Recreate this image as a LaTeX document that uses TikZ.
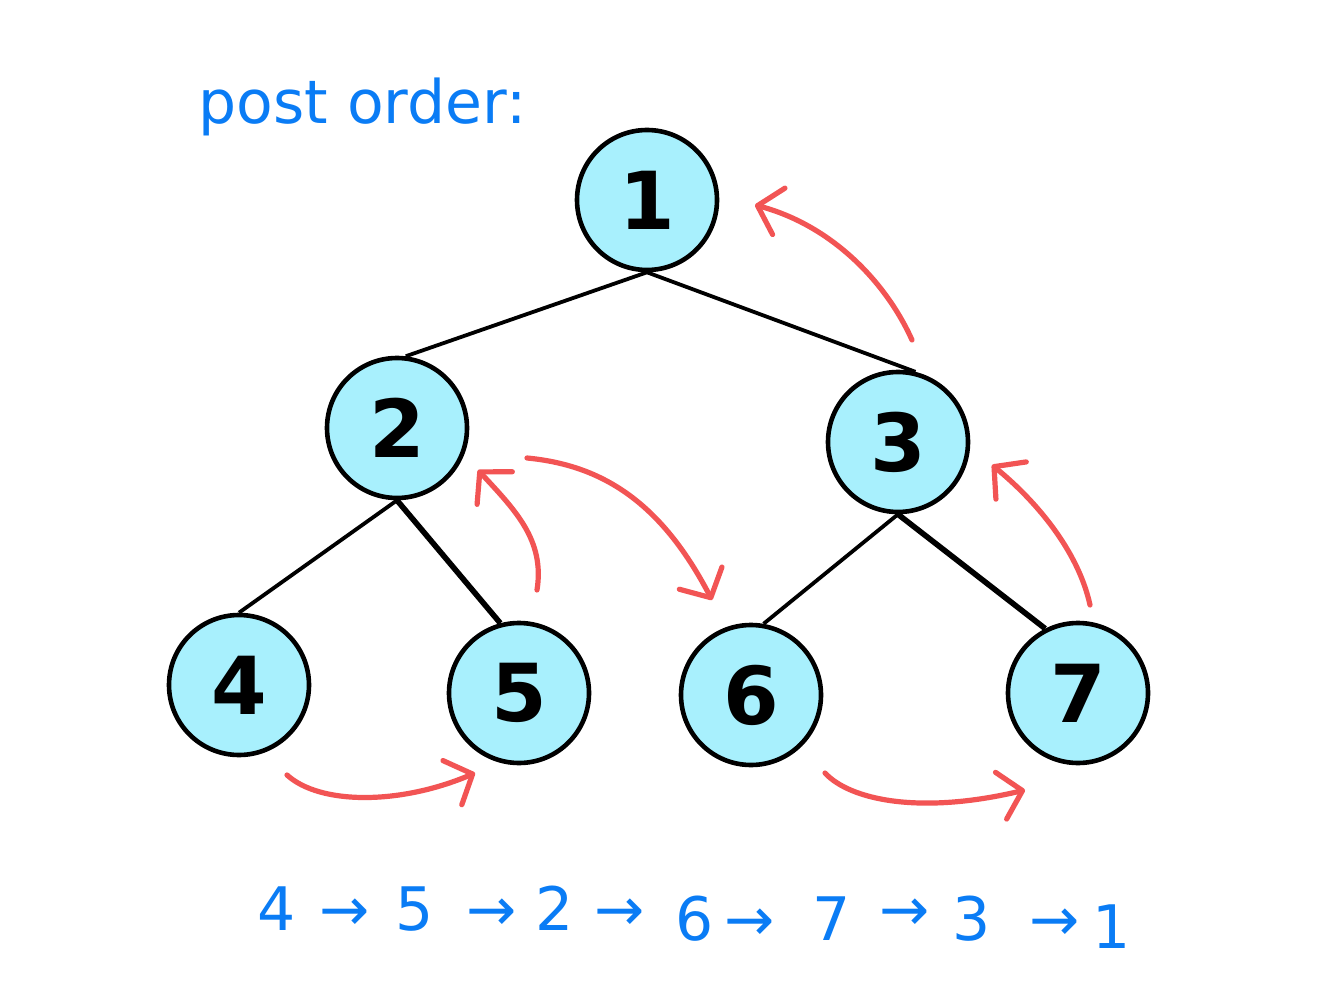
\documentclass[tikz,border=0pt]{standalone}
\usepackage{fontspec}
\setmainfont{DejaVu Sans}
\usetikzlibrary{arrows.meta}
\definecolor{nodefill}{HTML}{A8F0FD}
\definecolor{redarrow}{HTML}{F25454}
\definecolor{bluetext}{HTML}{0A7CF5}
\begin{document}
\begin{tikzpicture}[x=0.5pt,y=-0.5pt,
  tree/.style={circle,draw=black,line width=2.3pt,fill=nodefill,minimum size=70pt,inner sep=0pt,
    font=\fontsize{40}{44}\selectfont\bfseries},
  edge/.style={line width=1.9pt,black},
  thickedge/.style={line width=2.8pt,black},
  redarr/.style={draw=redarrow,line width=2.6pt,line cap=round,
    -{Straight Barb[length=11pt,width=24pt,line width=2.6pt,round]}},
  seqtok/.style={text=bluetext,font=\fontsize{30}{34}\selectfont,inner sep=0pt,anchor=base}]
\useasboundingbox (0,0) rectangle (1344,1000);
\fill[white] (0,0) rectangle (1344,1000);

% nodes
\node[tree] (n1) at (647,200) {1};
\node[tree] (n2) at (397,428) {2};
\node[tree] (n3) at (898,442) {3};
\node[tree] (n4) at (239,685) {4};
\node[tree] (n5) at (519,693) {5};
\node[tree] (n6) at (751,695) {6};
\node[tree] (n7) at (1078,693) {7};

% edges
\draw[edge] (n1.south) -- (n2.83);
\draw[edge] (n1.south) -- (n3.76);
\draw[edge] (n2.south) -- (n4.north);
\draw[thickedge] (n2.south) -- (n5.105);
\draw[edge] (n3.south) -- (n6.80);
\draw[thickedge] (n3.south) -- (n7.117);

% red traversal arrows
\coordinate (a45s) at (287,775); \coordinate (a45e) at (475,773);
\coordinate (a52s) at (537,590); \coordinate (a52e) at (478,470);
\coordinate (a26s) at (527,458); \coordinate (a26e) at (712,600);
\coordinate (a67s) at (825,773); \coordinate (a67e) at (1025,790);
\coordinate (a73s) at (1090,605); \coordinate (a73e) at (992,465);
\coordinate (a31s) at (912,340); \coordinate (a31e) at (755,205);
\draw[redarr] (a45s) .. controls (320,805) and (400,805) .. (a45e);
\draw[redarr] (a52s) .. controls (545,540) and (515,510) .. (a52e);
\draw[redarr] (a26s) .. controls (600,465) and (660,500) .. (a26e);
\draw[redarr] (a67s) .. controls (850,800) and (920,815) .. (a67e);
\draw[redarr] (a73s) .. controls (1078,550) and (1035,500) .. (a73e);
\draw[redarr] (a31s) .. controls (885,280) and (830,225) .. (a31e);

% title
\node[text=bluetext,font=\fontsize{30}{34}\selectfont,anchor=base west,inner sep=0pt] (title) at (198,124) {post order:};

% sequence
\node[seqtok] (s1) at (277,930) {4};
\node[seqtok] (s2) at (345,930) {→};
\node[seqtok] (s3) at (415,930) {5};
\node[seqtok] (s4) at (492,930) {→};
\node[seqtok] (s5) at (555,930) {2};
\node[seqtok] (s6) at (620,930) {→};
\node[seqtok] (s7) at (695,940) {6};
\node[seqtok] (s8) at (750,940) {→};
\node[seqtok] (s9) at (832,940) {7};
\node[seqtok] (s10) at (905,930) {→};
\node[seqtok] (s11) at (972,940) {3};
\node[seqtok] (s12) at (1055,940) {→};
\node[seqtok] (s13) at (1112,948) {1};
\end{tikzpicture}
\end{document}
